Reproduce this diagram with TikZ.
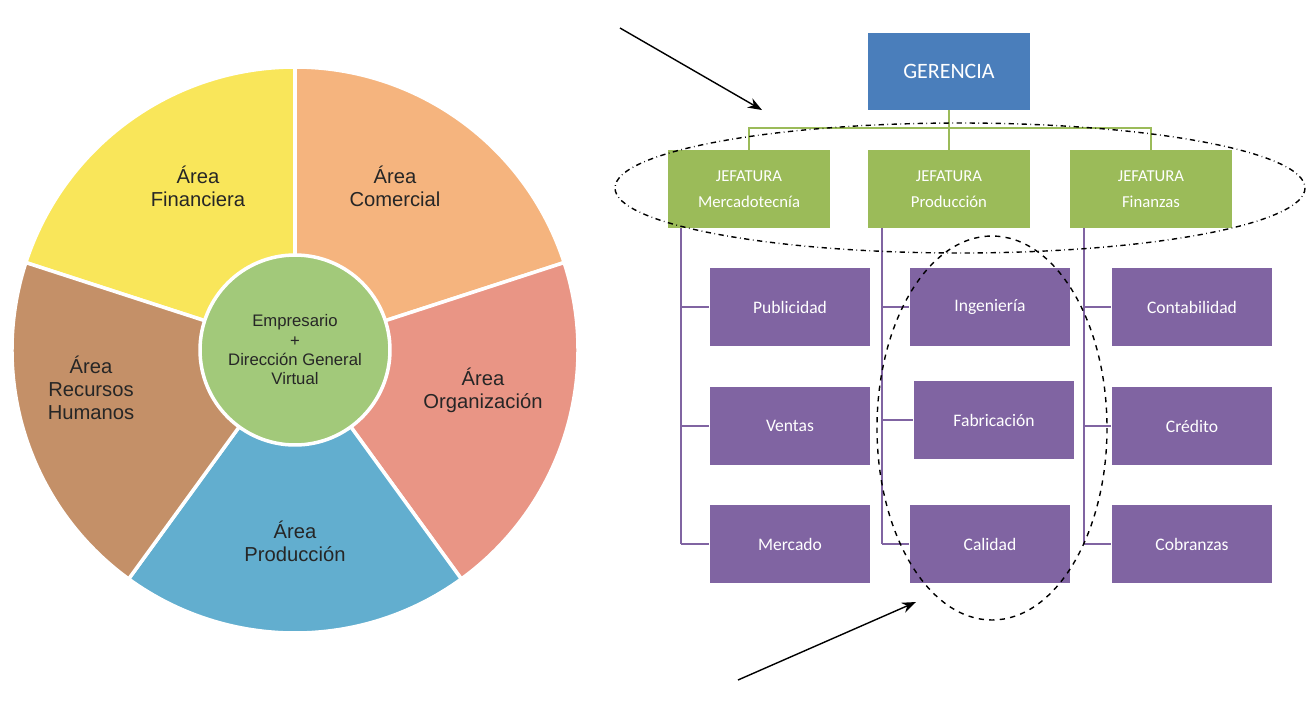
\documentclass[tikz,border=0pt]{standalone}
\usepackage{fontspec}
\setmainfont{Liberation Sans}
\newfontfamily\carl{Carlito}
\usetikzlibrary{arrows.meta}
\begin{document}
\begin{tikzpicture}[x=0.02cm,y=-0.02cm,
  lbl/.style={align=center,font=\fontsize{11.5}{13}\selectfont,text=black!85},
  pbox/.style={fill=pur,minimum width=3.22cm,minimum height=1.56cm,font=\carl\fontsize{10}{12}\selectfont,text=white},
  gbox/.style={fill=grn,minimum width=3.24cm,minimum height=1.56cm,align=center,font=\carl\fontsize{9.5}{15}\selectfont,text=white},
  gl/.style={draw=grn,line width=1.6pt},
  pl/.style={draw=pur,line width=1.6pt},
  arr/.style={-{Stealth[length=8pt]},line width=0.8pt}]
\definecolor{ye}{HTML}{F9E65A}\definecolor{orz}{HTML}{F5B47E}\definecolor{sal}{HTML}{E99585}
\definecolor{blu}{HTML}{62AECF}\definecolor{brn}{HTML}{C49068}\definecolor{cgr}{HTML}{A2C97A}
\definecolor{pur}{HTML}{8064A2}\definecolor{grn}{HTML}{9BBB59}\definecolor{ger}{HTML}{4A7EBB}
\useasboundingbox (0,0) rectangle (1316,701);
\coordinate (c) at (295,350);
\foreach \a/\b/\col in {-90/-162/ye, -18/-90/orz, 54/-18/sal, 126/54/blu, 198/126/brn}{
  \fill[\col,draw=white,line width=2pt] (c) -- ++(\a:283) arc[start angle=\a,end angle=\b,radius=283] -- cycle;}
\node[circle,fill=cgr,draw=white,line width=2pt,minimum size=3.8cm] (ctr) at (c) {};
\node[lbl,font=\fontsize{9.5}{11}\selectfont] at (c) {Empresario\\+\\Dirección General\\Virtual};
\node[lbl] (f) at (198,186) {Área\\Financiera};
\node[lbl] (co) at (395,186) {Área\\Comercial};
\node[lbl] (o) at (483,390) {Área\\Organización};
\node[lbl] (p) at (295,541) {Área\\Producción};
\node[lbl] (r) at (91,388) {Área\\Recursos\\Humanos};
% org chart
\node[fill=ger,minimum width=3.24cm,minimum height=1.54cm,font=\carl\fontsize{12.5}{14}\selectfont,text=white] (g) at (949,71) {GERENCIA};
\node[gbox] (j1) at (749,189) {JEFATURA\\Mercadotecnía};
\node[gbox] (j2) at (949,189) {JEFATURA\\Producción};
\node[gbox] (j3) at (1151,189) {JEFATURA\\Finanzas};
\coordinate (t) at (949,128);
\draw[gl] (g.south) -- (t);
\draw[gl] (j1.north) -- (749,128) -- (1151,128) -- (j3.north);
\draw[gl] (t) -- (j2.north);
\node[pbox] (a1) at (790,307) {Publicidad};
\node[pbox] (a2) at (790,426) {Ventas};
\node[pbox] (a3) at (790,544) {Mercado};
\node[pbox] (b1) at (990,307) {Ingeniería};
\node[pbox] (b2) at (994,420) {Fabricación};
\node[pbox] (b3) at (990,544) {Calidad};
\node[pbox] (c1) at (1192,307) {Contabilidad};
\node[pbox] (c2) at (1192,426) {Crédito};
\node[pbox] (c3) at (1192,544) {Cobranzas};
\foreach \j/\x/\p in {j1/681/a, j2/882/b, j3/1084/c}{
  \draw[pl] (\x,228) -- (\x,544);
  \draw[pl] (\x,307) -- (\p1.west);
  \draw[pl] (\x,544) -- (\p3.west);}
\draw[pl] (681,426) -- (a2.west);
\draw[pl] (882,420) -- (b2.west);
\draw[pl] (1084,426) -- (c2.west);
\draw[dash dot,line width=0.8pt] (960,188) ellipse [x radius=345,y radius=65];
\draw[dashed,line width=0.8pt] (992,428) ellipse [x radius=115,y radius=192];
\coordinate (s1) at (620,28); \coordinate (e1) at (762,110);
\coordinate (s2) at (738,680); \coordinate (e2) at (916,602);
\draw[arr] (s1) -- (e1);
\draw[arr] (s2) -- (e2);
\end{tikzpicture}
\end{document}
